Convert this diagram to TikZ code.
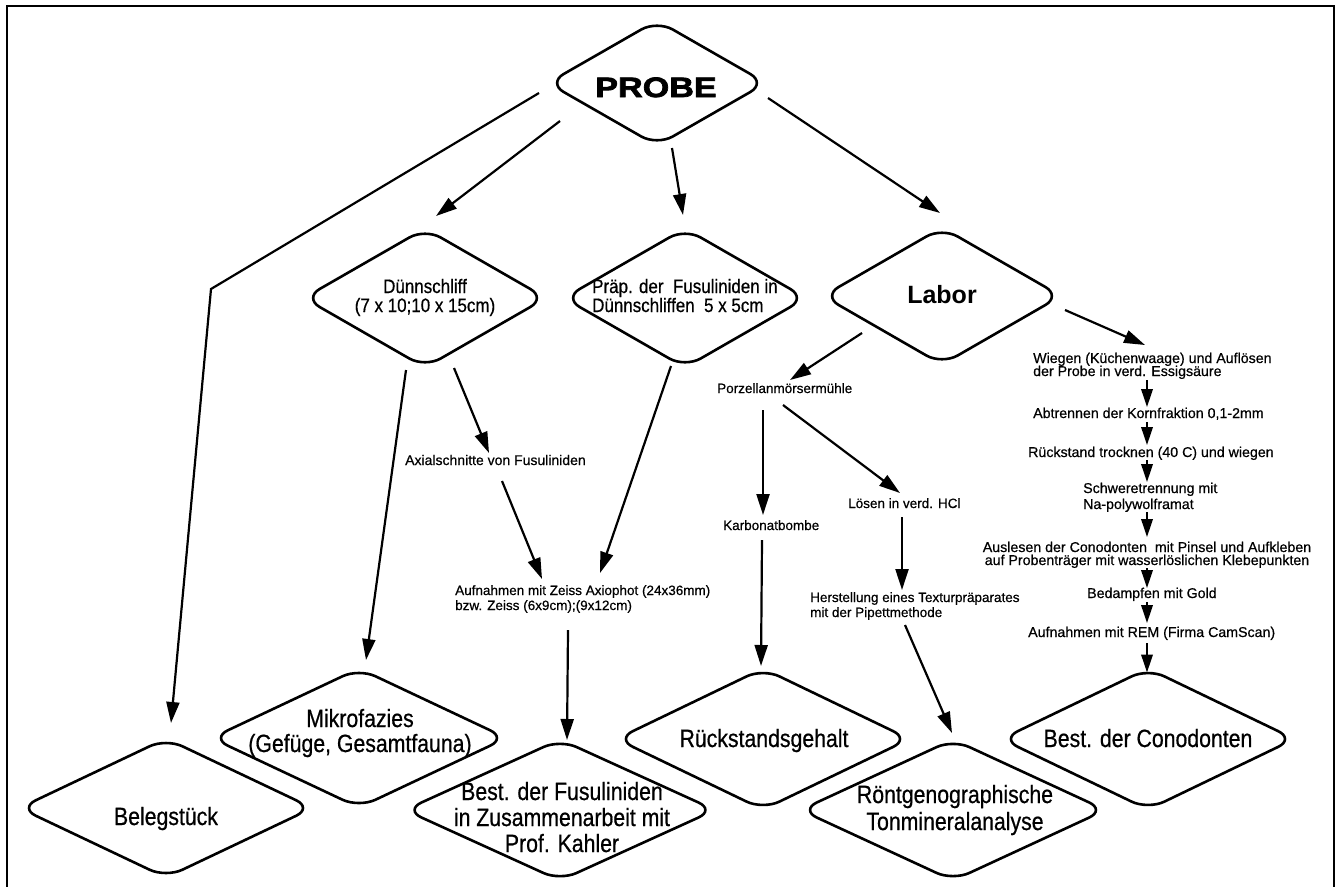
\documentclass[tikz,border=0pt]{standalone}
\usepackage{fontspec}
\setmainfont{Liberation Sans}
\newfontfamily\probefont[FakeStretch=1.22,BoldFeatures={FakeBold=2.5}]{Liberation Sans}
\newfontfamily\condfont[FakeStretch=0.87,FakeBold=0.6]{Liberation Sans}
\newfontfamily\botfont[FakeStretch=0.85,FakeBold=0.6]{Liberation Sans}
\newfontfamily\smfont[FakeBold=0.6]{Liberation Sans}
\usetikzlibrary{shapes.geometric,arrows.meta}
\begin{document}
\lineskiplimit=-20pt
\begin{tikzpicture}[x=1pt,y=-1pt,
  dia/.style={shape=diamond, draw, line width=2.6pt, rounded corners=18pt, inner sep=0pt, outer sep=0pt},
  arr/.style={line width=2.2pt, -{Triangle[length=21pt,width=13pt]}},
  sarr/.style={line width=2pt, -{Triangle[length=18pt,width=11.5pt]}},
  dtext/.style={inner sep=0pt, font=\condfont\fontsize{19.5pt}{19pt}\selectfont},
  btext/.style={inner sep=0pt, font=\botfont\fontsize{25pt}{26pt}\selectfont},
  stext/.style={inner sep=0pt, font=\smfont\fontsize{13.5pt}{15pt}\selectfont},
  rtext/.style={inner sep=0pt, font=\smfont\fontsize{14.2pt}{13pt}\selectfont},
]
\useasboundingbox (0,0) rectangle (1337,886);
\clip (0,0) rectangle (1337,886);
\draw[line width=2pt] (7,6) rectangle (1334,905);

% diamonds
\node[dia, minimum width=218pt, minimum height=125pt] (probe) at (657,83) {};
\node[inner sep=0pt, font=\probefont\bfseries\fontsize{28pt}{30pt}\selectfont, anchor=base] (probeT) at (656,97) {PROBE};

\node[dia, minimum width=242pt, minimum height=139pt] (dunn) at (425,298) {};
\node[dtext, align=center, anchor=base] (dunnT) at (425,312) {Dünnschliff\\(7 x 10;10 x 15cm)};

\node[dia, minimum width=242pt, minimum height=139pt] (praep) at (685,298) {};
\node[dtext, align=left, anchor=base west] (praepT) at (592,312) {Präp. der~~Fusuliniden in\\Dünnschliffen~~5 x 5cm};

\node[dia, minimum width=238pt, minimum height=137pt] (labor) at (942,296) {};
\node[inner sep=0pt, font=\bfseries\fontsize{25pt}{27pt}\selectfont, anchor=base] (laborT) at (942,303) {Labor};

\node[dia, minimum width=293pt, minimum height=139pt] (beleg) at (166,808) {};
\node[btext, anchor=base] (belegT) at (166,825) {Belegstück};

\node[dia, minimum width=295pt, minimum height=139pt] (mikro) at (359,738) {};
\node[btext, align=center, anchor=base, font=\botfont\fontsize{25pt}{25pt}\selectfont] (mikroT) at (360,752) {Mikrofazies\\(Gefüge, Gesamtfauna)};

\node[dia, minimum width=310pt, minimum height=141pt] (bestf) at (560,810) {};
\node[btext, align=center, anchor=base] (bestfT) at (562,852) {Best. der Fusuliniden\\in Zusammenarbeit mit\\Prof. Kahler};

\node[dia, minimum width=293pt, minimum height=141pt] (rueck) at (763,739) {};
\node[btext, anchor=base] (rueckT) at (764,747) {Rückstandsgehalt};

\node[dia, minimum width=305pt, minimum height=141pt] (roent) at (953,810) {};
\node[btext, align=center, anchor=base, font=\botfont\fontsize{25pt}{27pt}\selectfont] (roentT) at (955,830) {Röntgenographische\\Tonmineralanalyse};

\node[dia, minimum width=293pt, minimum height=141pt] (bestc) at (1148,739) {};
\node[btext, anchor=base] (bestcT) at (1148,747) {Best. der Conodonten};

% small texts
\node[stext, anchor=base west, font=\smfont\fontsize{14pt}{15pt}\selectfont] (axT) at (405,465) {Axialschnitte von Fusuliniden};
\node[stext, align=left, anchor=base west] (aufT) at (455,610) {Aufnahmen mit Zeiss Axiophot (24x36mm)\\bzw. Zeiss (6x9cm);(9x12cm)};
\node[stext, anchor=base west] (porzT) at (717,393) {Porzellanmörsermühle};
\node[stext, anchor=base west] (karbT) at (723,530) {Karbonatbombe};
\node[stext, anchor=base west] (loesT) at (848,508) {Lösen in verd. HCl};
\node[stext, align=left, anchor=base west] (herT) at (810,617) {Herstellung eines Texturpräparates\\mit der Pipettmethode};

\node[rtext, align=left, anchor=base west] (wiegT) at (1033,376) {Wiegen (Küchenwaage) und Auflösen\\der Probe in verd. Essigsäure};
\node[rtext, anchor=base west] (abtrT) at (1033,418) {Abtrennen der Kornfraktion 0,1-2mm};
\node[rtext, anchor=base west] (rtrT) at (1028,457) {Rückstand trocknen (40 C) und wiegen};
\node[rtext, align=left, anchor=base west, font=\smfont\fontsize{14.2pt}{16pt}\selectfont] (schwT) at (1083,509) {Schweretrennung mit\\Na-polywolframat};
\node[rtext, align=center, anchor=base] (auslT) at (1147,565) {Auslesen der Conodonten~~mit Pinsel und Aufkleben\\auf Probenträger mit wasserlöslichen Klebepunkten};
\node[rtext, anchor=base west] (bedT) at (1087,598) {Bedampfen mit Gold};
\node[rtext, anchor=base west] (aufremT) at (1028,637) {Aufnahmen mit REM (Firma CamScan)};

% connectors from PROBE
\coordinate (bend) at (211,289);
\draw[arr, line join=miter] ([shift={(-9,10)}]probe.west) -- (bend) -- ([shift={(5,-15.5)}]beleg.north);
\draw[arr] ([shift={(12,38)}]probe.west) -- ([shift={(11,-12.5)}]dunn.north);
\draw[arr] ([shift={(15,2.5)}]probe.south) -- ([shift={(-2,-13.5)}]praep.north);
\draw[arr] ([shift={(2,15)}]probe.east) -- ([shift={(-2,-14.5)}]labor.north);

% Duennschliff branch
\draw[arr] ([shift={(-19,2.5)}]dunn.south) -- ([shift={(7,-8.5)}]mikro.north);
\draw[arr] ([shift={(29,0.5)}]dunn.south) -- ([shift={(84,-12)}]axT.base west);
\draw[arr] ([shift={(97,16)}]axT.base west) -- ([shift={(87,-31)}]aufT.base west);
\draw[arr] ([shift={(-14,-1.5)}]praep.south) -- ([shift={(145,-37)}]aufT.base west);
\draw[arr] ([shift={(113,20)}]aufT.base west) -- ([shift={(7,0.5)}]bestf.north);

% Labor branch (middle)
\draw[arr] ([shift={(-80,-31.5)}]labor.south) -- ([shift={(73,-13)}]porzT.base west);
\draw[arr] ([shift={(46,17)}]porzT.base west) -- ([shift={(40,-15)}]karbT.base west);
\draw[arr] ([shift={(66,12)}]porzT.base west) -- ([shift={(52,-15)}]loesT.base west);
\draw[arr] ([shift={(39,10)}]karbT.base west) -- ([shift={(-2,-2.5)}]rueck.north);
\draw[arr] ([shift={(54,9)}]loesT.base west) -- ([shift={(92,-27)}]herT.base west);
\draw[arr] ([shift={(95,8)}]herT.base west) -- ([shift={(-1,-6.5)}]roent.north);

% Labor branch (right column)
\draw[arr] ([shift={(4,14)}]labor.east) -- ([shift={(112,-31)}]wiegT.base west);
\draw[sarr] ([shift={(114,4)}]wiegT.base west) -- ([shift={(114,-11)}]abtrT.base west);
\draw[sarr] ([shift={(114,4)}]abtrT.base west) -- ([shift={(119,-12)}]rtrT.base west);
\draw[sarr] ([shift={(119,3)}]rtrT.base west) -- ([shift={(64,-27)}]schwT.base west);
\draw[sarr] ([shift={(64,3)}]schwT.base west) -- ([shift={(0,-28)}]auslT.base);
\draw[sarr] ([shift={(0,3)}]auslT.base) -- ([shift={(60,-10)}]bedT.base west);
\draw[sarr] ([shift={(60,4)}]bedT.base west) -- ([shift={(119,-14)}]aufremT.base west);
\draw[sarr] ([shift={(119,6)}]aufremT.base west) -- ([shift={(-1,4)}]bestc.north);
\end{tikzpicture}
\end{document}
